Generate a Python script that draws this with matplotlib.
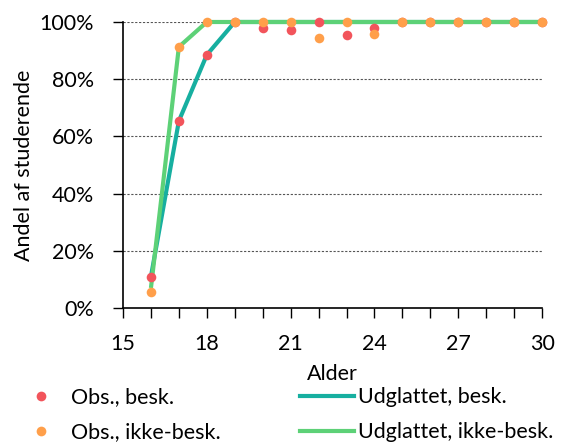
import matplotlib
matplotlib.use("Agg")
import matplotlib.pyplot as plt
from matplotlib.lines import Line2D
from matplotlib.ticker import FuncFormatter, MultipleLocator

plt.rcParams['font.family'] = ['Lato', 'DejaVu Sans']

ages = list(range(16, 31))
obs_besk = [0.11, 0.654, 0.885, 1.0, 0.979, 0.972, 1.0, 0.955, 0.979, 1, 1, 1, 1, 1, 1]
obs_ikke = [0.057, 0.913, 1.0, 1.0, 1.0, 1.0, 0.945, 1.0, 0.957, 1, 1, 1, 1, 1, 1]
smooth_besk = [0.11, 0.654, 0.885, 1.0, 1, 1, 1, 1, 1, 1, 1, 1, 1, 1, 1]
smooth_ikke = [0.07, 0.913, 1.0, 1.0, 1, 1, 1, 1, 1, 1, 1, 1, 1, 1, 1]
xtick_vals = [15, 18, 21, 24, 27, 30]
ytick_vals = [0, 0.2, 0.4, 0.6, 0.8, 1.0]

c_red = '#F2545B'
c_orange = '#FF9F4A'
c_teal = '#17AFA0'
c_green = '#5DD177'
FS = 15.5

fig = plt.figure(figsize=(5.7, 4.47), dpi=100)
ax = fig.add_axes([0.2158, 0.311, 0.951 - 0.2158, 0.9508 - 0.311])

ax.plot(ages, smooth_besk, color=c_teal, lw=3, solid_capstyle='butt', zorder=3, clip_on=False)
ax.plot(ages, smooth_ikke, color=c_green, lw=3, solid_capstyle='butt', zorder=4, clip_on=False)
ax.scatter(ages, obs_besk, color=c_red, s=48, zorder=5, clip_on=False, linewidths=0)
ax.scatter(ages, obs_ikke, color=c_orange, s=48, zorder=6, clip_on=False, linewidths=0)

ax.set_xlim(15, 30)
ax.set_ylim(0, 1)
ax.xaxis.set_major_locator(MultipleLocator(1))
ax.xaxis.set_major_formatter(FuncFormatter(lambda v, p: f"{int(round(v))}" if int(round(v)) in xtick_vals else ""))
ax.set_yticks(ytick_vals)
ax.yaxis.set_major_formatter(FuncFormatter(lambda v, p: f"{int(round(v*100))}%"))
ax.tick_params(axis='both', direction='out', length=7, width=1, labelsize=FS, colors='black')
ax.tick_params(axis='x', pad=12)
ax.tick_params(axis='y', pad=14)

for y in ytick_vals[1:]:
    ax.axhline(y, color='#555555', lw=0.8, ls=(0, (2, 1.5)), zorder=1)

ax.spines['top'].set_visible(False)
ax.spines['right'].set_visible(False)
ax.spines['left'].set_linewidth(1.2)
ax.spines['bottom'].set_linewidth(1.2)

ax.set_xlabel('Alder', fontsize=FS, labelpad=7)
ax.set_ylabel('Andel af studerende', fontsize=FS, labelpad=4)

handles = [
    Line2D([], [], marker='o', color='none', markerfacecolor=c_red, markeredgecolor='none', markersize=7),
    Line2D([], [], marker='o', color='none', markerfacecolor=c_orange, markeredgecolor='none', markersize=7),
    Line2D([], [], color=c_teal, lw=3),
    Line2D([], [], color=c_green, lw=3),
]
labels = ['Obs., besk.', 'Obs., ikke-besk.', 'Udglattet, besk.', 'Udglattet, ikke-besk.']
fig.legend(handles, labels, ncol=2, loc='upper left', bbox_to_anchor=(0.0246, 0.134),
           frameon=False, fontsize=FS, handlelength=2.5, handletextpad=0.15,
           columnspacing=3.7, labelspacing=0.7, borderaxespad=0, borderpad=0)

fig.savefig('out.png', dpi=100)
